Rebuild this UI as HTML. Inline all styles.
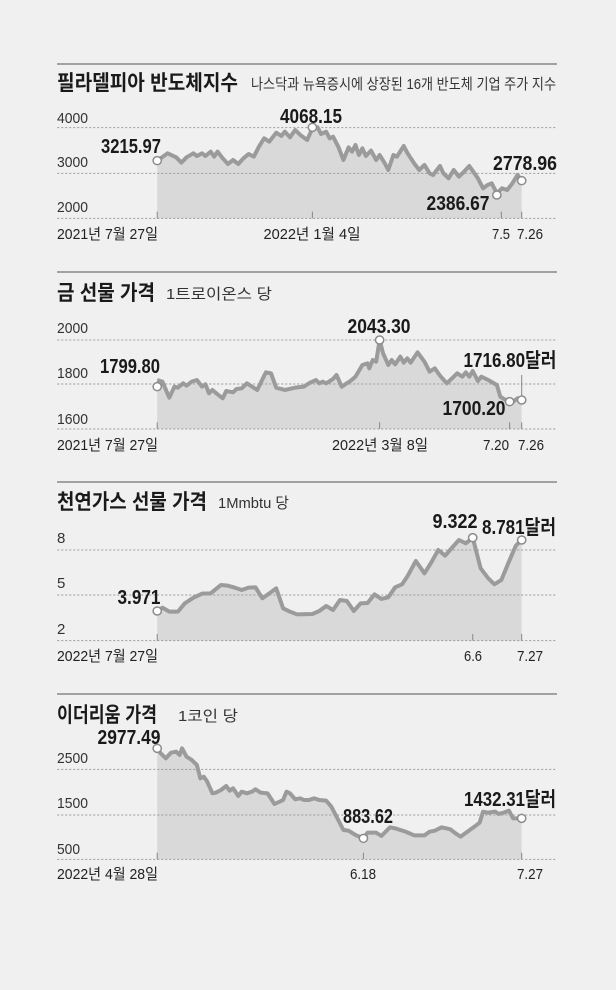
<!DOCTYPE html>
<html><head><meta charset="utf-8"><style>
html,body{margin:0;padding:0;background:#f0f0f0}
svg{display:block}
.t{font-family:"Liberation Sans","Noto Sans CJK KR",sans-serif;font-weight:bold;font-size:21px;fill:#1a1a1a}
.s{font-family:"Liberation Sans","Noto Sans CJK KR",sans-serif;font-size:15px;fill:#333}
.y{font-family:"Liberation Sans",sans-serif;font-size:15px;fill:#333}
.x{font-family:"Liberation Sans","Noto Sans CJK KR",sans-serif;font-size:15px;fill:#222}
.v{font-family:"Liberation Sans","Noto Sans CJK KR",sans-serif;font-size:20px;font-weight:bold;fill:#1a1a1a}
.g{stroke:#9a9a9a;stroke-width:1;stroke-dasharray:2 2;fill:none}
.a{fill:#d9d9d9;stroke:none}
.l{fill:none;stroke:#9b9b9b;stroke-width:4;stroke-linejoin:round}
.c{fill:#fff;stroke:#8c8c8c;stroke-width:1.5}
.k{stroke:#888;stroke-width:1}
.sep{stroke:#555;stroke-width:1}
</style></head><body>
<svg width="616" height="990" viewBox="0 0 616 990" xmlns="http://www.w3.org/2000/svg">
<rect width="616" height="990" fill="#f0f0f0"/>

<!-- Chart 1 -->
<line class="sep" x1="57" y1="64" x2="557" y2="64"/>
<text class="t" x="57" y="90" textLength="181" lengthAdjust="spacingAndGlyphs">필라델피아 반도체지수</text>
<text class="s" x="251" y="89" textLength="305" lengthAdjust="spacingAndGlyphs">나스닥과 뉴욕증시에 상장된 16개 반도체 기업 주가 지수</text>
<g transform="translate(40,60) scale(0.3448,0.3333)">
<polygon class="a" points="340,302 370,280 395,292 410,308 425,292 445,280 455,288 470,280 480,288 495,275 505,290 515,275 530,295 545,312 560,300 575,312 590,295 605,282 620,290 635,260 650,235 665,245 685,218 700,228 710,215 725,232 740,210 755,225 775,240 790,205 805,202 815,222 830,215 840,235 850,230 865,260 880,300 895,262 905,275 915,255 925,285 935,265 945,288 960,272 975,300 985,285 1000,310 1010,330 1025,285 1035,290 1055,258 1065,278 1085,310 1100,330 1115,315 1130,340 1140,345 1160,318 1170,340 1185,355 1200,330 1215,350 1225,340 1245,318 1260,340 1270,355 1285,385 1298,375 1310,370 1325,400 1340,385 1355,390 1370,370 1385,345 1397,362 1397,475 340,475"/>
<line class="g" vector-effect="non-scaling-stroke" x1="50" y1="203" x2="1500" y2="203"/>
<line class="g" vector-effect="non-scaling-stroke" x1="50" y1="340" x2="1500" y2="340"/>
<line class="g" vector-effect="non-scaling-stroke" x1="50" y1="475" x2="1500" y2="475"/>
<g class="k"><line vector-effect="non-scaling-stroke" x1="340" y1="455" x2="340" y2="475"/><line vector-effect="non-scaling-stroke" x1="790" y1="455" x2="790" y2="475"/><line vector-effect="non-scaling-stroke" x1="1338" y1="455" x2="1338" y2="475"/><line vector-effect="non-scaling-stroke" x1="1397" y1="455" x2="1397" y2="475"/></g>
<polyline class="l" vector-effect="non-scaling-stroke" points="340,302 370,280 395,292 410,308 425,292 445,280 455,288 470,280 480,288 495,275 505,290 515,275 530,295 545,312 560,300 575,312 590,295 605,282 620,290 635,260 650,235 665,245 685,218 700,228 710,215 725,232 740,210 755,225 775,240 790,205 805,202 815,222 830,215 840,235 850,230 865,260 880,300 895,262 905,275 915,255 925,285 935,265 945,288 960,272 975,300 985,285 1000,310 1010,330 1025,285 1035,290 1055,258 1065,278 1085,310 1100,330 1115,315 1130,340 1140,345 1160,318 1170,340 1185,355 1200,330 1215,350 1225,340 1245,318 1260,340 1270,355 1285,385 1298,375 1310,370 1325,400 1340,385 1355,390 1370,370 1385,345 1397,362"/>
<g class="c"><circle vector-effect="non-scaling-stroke" cx="340" cy="302" r="12"/><circle vector-effect="non-scaling-stroke" cx="790" cy="202" r="12"/><circle vector-effect="non-scaling-stroke" cx="1325" cy="405" r="12"/><circle vector-effect="non-scaling-stroke" cx="1397" cy="362" r="12"/></g>
</g>
<text class="y" x="57" y="123" textLength="31" lengthAdjust="spacingAndGlyphs">4000</text><text class="y" x="57" y="167" textLength="31" lengthAdjust="spacingAndGlyphs">3000</text><text class="y" x="57" y="212" textLength="31" lengthAdjust="spacingAndGlyphs">2000</text>
<text class="v" x="131" y="153" text-anchor="middle" textLength="60" lengthAdjust="spacingAndGlyphs">3215.97</text>
<text class="v" x="311" y="123" text-anchor="middle" textLength="62" lengthAdjust="spacingAndGlyphs">4068.15</text>
<text class="v" x="525" y="170" text-anchor="middle" textLength="64" lengthAdjust="spacingAndGlyphs">2778.96</text>
<text class="v" x="458" y="210" text-anchor="middle" textLength="63" lengthAdjust="spacingAndGlyphs">2386.67</text>
<text class="x" x="57" y="239" textLength="101" lengthAdjust="spacingAndGlyphs">2021년 7월 27일</text>
<text class="x" x="312" y="239" text-anchor="middle" textLength="97" lengthAdjust="spacingAndGlyphs">2022년 1월 4일</text>
<text class="x" x="501" y="239" text-anchor="middle" textLength="18" lengthAdjust="spacingAndGlyphs">7.5</text>
<text class="x" x="530" y="239" text-anchor="middle" textLength="26" lengthAdjust="spacingAndGlyphs">7.26</text>

<!-- Chart 2 -->
<line class="sep" x1="57" y1="272" x2="557" y2="272"/>
<text class="t" x="57" y="300" textLength="98" lengthAdjust="spacingAndGlyphs">금 선물 가격</text>
<text class="s" x="166" y="299" textLength="106" lengthAdjust="spacingAndGlyphs">1트로이온스 당</text>
<g transform="translate(40,265) scale(0.3448,0.3333)">
<polygon class="a" points="340,345 355,350 375,398 390,365 400,368 415,355 425,362 440,350 455,345 470,365 480,358 490,385 500,375 515,388 530,400 540,378 560,382 570,372 585,370 600,355 630,375 655,322 670,325 685,368 710,375 740,368 765,365 780,355 790,350 800,345 810,355 820,350 830,355 850,342 860,330 875,365 900,348 915,335 935,300 950,295 955,310 965,285 975,290 985,225 995,265 1010,300 1020,285 1030,298 1045,275 1055,293 1065,280 1075,293 1095,262 1115,290 1130,320 1145,310 1160,332 1180,355 1195,340 1210,325 1225,335 1235,322 1245,335 1255,318 1270,348 1280,335 1300,345 1325,360 1335,395 1350,405 1362,410 1375,408 1385,400 1397,405 1397,492 340,492"/>
<line class="g" vector-effect="non-scaling-stroke" x1="50" y1="225" x2="1500" y2="225"/>
<line class="g" vector-effect="non-scaling-stroke" x1="50" y1="357" x2="1500" y2="357"/>
<line class="g" vector-effect="non-scaling-stroke" x1="50" y1="492" x2="1500" y2="492"/>
<g class="k"><line vector-effect="non-scaling-stroke" x1="340" y1="472" x2="340" y2="492"/><line vector-effect="non-scaling-stroke" x1="985" y1="472" x2="985" y2="492"/><line vector-effect="non-scaling-stroke" x1="1362" y1="472" x2="1362" y2="492"/><line vector-effect="non-scaling-stroke" x1="1397" y1="472" x2="1397" y2="492"/><line vector-effect="non-scaling-stroke" x1="1397" y1="330" x2="1397" y2="398"/></g>
<polyline class="l" vector-effect="non-scaling-stroke" points="340,345 355,350 375,398 390,365 400,368 415,355 425,362 440,350 455,345 470,365 480,358 490,385 500,375 515,388 530,400 540,378 560,382 570,372 585,370 600,355 630,375 655,322 670,325 685,368 710,375 740,368 765,365 780,355 790,350 800,345 810,355 820,350 830,355 850,342 860,330 875,365 900,348 915,335 935,300 950,295 955,310 965,285 975,290 985,225 995,265 1010,300 1020,285 1030,298 1045,275 1055,293 1065,280 1075,293 1095,262 1115,290 1130,320 1145,310 1160,332 1180,355 1195,340 1210,325 1225,335 1235,322 1245,335 1255,318 1270,348 1280,335 1300,345 1325,360 1335,395 1350,405 1362,410 1375,408 1385,400 1397,405"/>
<g class="c"><circle vector-effect="non-scaling-stroke" cx="340" cy="365" r="12"/><circle vector-effect="non-scaling-stroke" cx="985" cy="225" r="12"/><circle vector-effect="non-scaling-stroke" cx="1362" cy="410" r="12"/><circle vector-effect="non-scaling-stroke" cx="1397" cy="405" r="12"/></g>
</g>
<text class="y" x="57" y="333" textLength="31" lengthAdjust="spacingAndGlyphs">2000</text><text class="y" x="57" y="378" textLength="31" lengthAdjust="spacingAndGlyphs">1800</text><text class="y" x="57" y="424" textLength="31" lengthAdjust="spacingAndGlyphs">1600</text>
<text class="v" x="130" y="373" text-anchor="middle" textLength="60" lengthAdjust="spacingAndGlyphs">1799.80</text>
<text class="v" x="379" y="333" text-anchor="middle" textLength="63" lengthAdjust="spacingAndGlyphs">2043.30</text>
<text class="v" x="510" y="367" text-anchor="middle" textLength="93" lengthAdjust="spacingAndGlyphs">1716.80달러</text>
<text class="v" x="474" y="415" text-anchor="middle" textLength="63" lengthAdjust="spacingAndGlyphs">1700.20</text>
<text class="x" x="57" y="450" textLength="101" lengthAdjust="spacingAndGlyphs">2021년 7월 27일</text>
<text class="x" x="380" y="450" text-anchor="middle" textLength="96" lengthAdjust="spacingAndGlyphs">2022년 3월 8일</text>
<text class="x" x="496" y="450" text-anchor="middle" textLength="26" lengthAdjust="spacingAndGlyphs">7.20</text>
<text class="x" x="531" y="450" text-anchor="middle" textLength="26" lengthAdjust="spacingAndGlyphs">7.26</text>

<!-- Chart 3 -->
<line class="sep" x1="57" y1="482" x2="557" y2="482"/>
<text class="t" x="57" y="509" textLength="150" lengthAdjust="spacingAndGlyphs">천연가스 선물 가격</text>
<text class="s" x="218" y="508" textLength="71" lengthAdjust="spacingAndGlyphs">1Mmbtu 당</text>
<g transform="translate(40,475) scale(0.3448,0.3333)">
<polygon class="a" points="340,408 355,398 375,410 400,410 420,385 445,368 470,356 495,355 525,330 545,332 565,338 585,345 605,338 625,337 645,370 665,355 685,340 705,400 725,410 745,418 790,417 810,408 830,393 850,405 870,375 890,378 910,408 930,385 950,384 970,358 990,372 1010,367 1030,337 1050,328 1065,305 1090,258 1115,295 1135,262 1155,225 1175,242 1195,218 1215,195 1235,205 1255,188 1278,280 1300,310 1318,328 1338,315 1358,265 1380,212 1397,195 1397,497 340,497"/>
<line class="g" vector-effect="non-scaling-stroke" x1="50" y1="225" x2="1500" y2="225"/>
<line class="g" vector-effect="non-scaling-stroke" x1="50" y1="360" x2="1500" y2="360"/>
<line class="g" vector-effect="non-scaling-stroke" x1="50" y1="497" x2="1500" y2="497"/>
<g class="k"><line vector-effect="non-scaling-stroke" x1="340" y1="477" x2="340" y2="497"/><line vector-effect="non-scaling-stroke" x1="1255" y1="477" x2="1255" y2="497"/><line vector-effect="non-scaling-stroke" x1="1397" y1="477" x2="1397" y2="497"/></g>
<polyline class="l" vector-effect="non-scaling-stroke" points="340,408 355,398 375,410 400,410 420,385 445,368 470,356 495,355 525,330 545,332 565,338 585,345 605,338 625,337 645,370 665,355 685,340 705,400 725,410 745,418 790,417 810,408 830,393 850,405 870,375 890,378 910,408 930,385 950,384 970,358 990,372 1010,367 1030,337 1050,328 1065,305 1090,258 1115,295 1135,262 1155,225 1175,242 1195,218 1215,195 1235,205 1255,188 1278,280 1300,310 1318,328 1338,315 1358,265 1380,212 1397,195"/>
<g class="c"><circle vector-effect="non-scaling-stroke" cx="340" cy="408" r="12"/><circle vector-effect="non-scaling-stroke" cx="1255" cy="188" r="12"/><circle vector-effect="non-scaling-stroke" cx="1397" cy="195" r="12"/></g>
</g>
<text class="y" x="57" y="543">8</text><text class="y" x="57" y="588">5</text><text class="y" x="57" y="634">2</text>
<text class="v" x="139" y="604" text-anchor="middle" textLength="43" lengthAdjust="spacingAndGlyphs">3.971</text>
<text class="v" x="455" y="528" text-anchor="middle" textLength="45" lengthAdjust="spacingAndGlyphs">9.322</text>
<text class="v" x="519" y="534" text-anchor="middle" textLength="74" lengthAdjust="spacingAndGlyphs">8.781달러</text>
<text class="x" x="57" y="661" textLength="101" lengthAdjust="spacingAndGlyphs">2022년 7월 27일</text>
<text class="x" x="473" y="661" text-anchor="middle" textLength="18" lengthAdjust="spacingAndGlyphs">6.6</text>
<text class="x" x="530" y="661" text-anchor="middle" textLength="26" lengthAdjust="spacingAndGlyphs">7.27</text>

<!-- Chart 4 -->
<line class="sep" x1="57" y1="694" x2="557" y2="694"/>
<text class="t" x="57" y="722" textLength="100" lengthAdjust="spacingAndGlyphs">이더리움 가격</text>
<text class="s" x="178" y="721" textLength="60" lengthAdjust="spacingAndGlyphs">1코인 당</text>
<g transform="translate(40,690) scale(0.3448,0.3333)">
<polygon class="a" points="340,175 350,190 365,205 380,188 395,185 405,195 412,175 425,200 440,210 455,225 465,265 475,260 485,275 500,310 510,308 525,300 540,288 550,302 560,295 575,318 585,305 600,310 615,305 625,298 640,308 660,310 680,342 695,335 705,330 715,305 725,310 740,328 755,325 765,330 780,330 795,325 810,330 830,332 845,350 865,390 880,420 895,422 915,435 938,445 950,428 975,428 990,438 1015,412 1030,415 1060,425 1085,436 1115,436 1130,425 1145,422 1165,412 1190,418 1205,430 1220,440 1240,425 1260,410 1275,398 1285,365 1300,368 1320,365 1330,372 1345,368 1360,362 1372,385 1385,385 1397,385 1397,508 340,508"/>
<line class="g" vector-effect="non-scaling-stroke" x1="50" y1="238" x2="1500" y2="238"/>
<line class="g" vector-effect="non-scaling-stroke" x1="50" y1="375" x2="1500" y2="375"/>
<line class="g" vector-effect="non-scaling-stroke" x1="50" y1="508" x2="1500" y2="508"/>
<g class="k"><line vector-effect="non-scaling-stroke" x1="340" y1="488" x2="340" y2="508"/><line vector-effect="non-scaling-stroke" x1="938" y1="488" x2="938" y2="508"/><line vector-effect="non-scaling-stroke" x1="1397" y1="488" x2="1397" y2="508"/></g>
<polyline class="l" vector-effect="non-scaling-stroke" points="340,175 350,190 365,205 380,188 395,185 405,195 412,175 425,200 440,210 455,225 465,265 475,260 485,275 500,310 510,308 525,300 540,288 550,302 560,295 575,318 585,305 600,310 615,305 625,298 640,308 660,310 680,342 695,335 705,330 715,305 725,310 740,328 755,325 765,330 780,330 795,325 810,330 830,332 845,350 865,390 880,420 895,422 915,435 938,445 950,428 975,428 990,438 1015,412 1030,415 1060,425 1085,436 1115,436 1130,425 1145,422 1165,412 1190,418 1205,430 1220,440 1240,425 1260,410 1275,398 1285,365 1300,368 1320,365 1330,372 1345,368 1360,362 1372,385 1385,385 1397,385"/>
<g class="c"><circle vector-effect="non-scaling-stroke" cx="340" cy="175" r="12"/><circle vector-effect="non-scaling-stroke" cx="938" cy="445" r="12"/><circle vector-effect="non-scaling-stroke" cx="1397" cy="385" r="12"/></g>
</g>
<text class="y" x="57" y="763" textLength="31" lengthAdjust="spacingAndGlyphs">2500</text><text class="y" x="57" y="808" textLength="31" lengthAdjust="spacingAndGlyphs">1500</text><text class="y" x="57" y="854" textLength="23" lengthAdjust="spacingAndGlyphs">500</text>
<text class="v" x="129" y="744" text-anchor="middle" textLength="63" lengthAdjust="spacingAndGlyphs">2977.49</text>
<text class="v" x="368" y="823" text-anchor="middle" textLength="50" lengthAdjust="spacingAndGlyphs">883.62</text>
<text class="v" x="510" y="806" text-anchor="middle" textLength="92" lengthAdjust="spacingAndGlyphs">1432.31달러</text>
<text class="x" x="57" y="879" textLength="101" lengthAdjust="spacingAndGlyphs">2022년 4월 28일</text>
<text class="x" x="363" y="879" text-anchor="middle" textLength="26" lengthAdjust="spacingAndGlyphs">6.18</text>
<text class="x" x="530" y="879" text-anchor="middle" textLength="26" lengthAdjust="spacingAndGlyphs">7.27</text>
</svg>
</body></html>
